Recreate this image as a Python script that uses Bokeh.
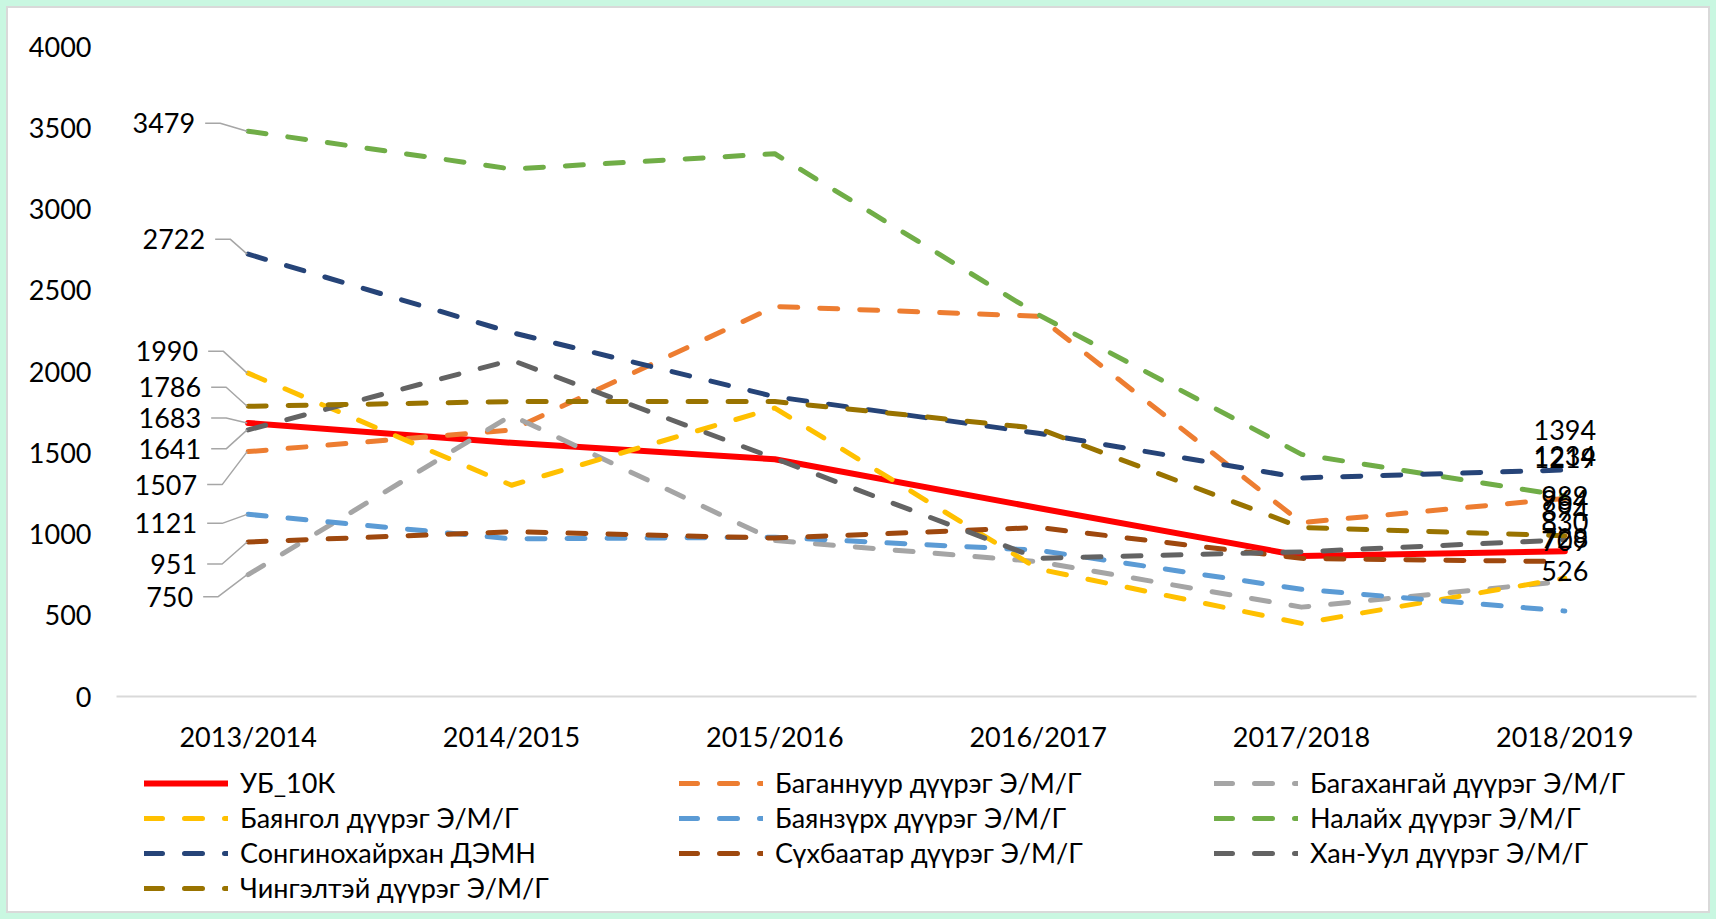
from bokeh.plotting import figure
from bokeh.layouts import column
from bokeh.models import Range1d, FixedTicker, Legend, LegendItem
from bokeh.core.properties import value
from bokeh.embed import file_html
from bokeh.resources import INLINE

# ---------------- data ----------------
categories = ["2013/2014", "2014/2015", "2015/2016", "2016/2017", "2017/2018", "2018/2019"]

ub_10k = [1683, 1561, 1460, 1160, 865, 894]
baganuur = [1507, 1640, 2400, 2340, 1070, 1219]
bagakhangai = [750, 1730, 960, 830, 550, 709]
bayangol = [1990, 1300, 1775, 785, 450, 728]
bayanzurkh = [1121, 970, 980, 900, 660, 526]
nalaikh = [3479, 3246, 3340, 2350, 1490, 1234]
songinokhairkhan = [2722, 2240, 1845, 1620, 1345, 1394]
sukhbaatar = [951, 1014, 975, 1040, 850, 830]
khan_uul = [1641, 2070, 1465, 850, 890, 964]
chingeltei = [1786, 1815, 1815, 1650, 1040, 989]

series_names = ["УБ_10К", "Баганнуур дүүрэг Э/М/Г", "Багахангай дүүрэг Э/М/Г",
                "Баянгол дүүрэг Э/М/Г", "Баянзүрх дүүрэг Э/М/Г", "Налайх дүүрэг Э/М/Г",
                "Сонгинохайрхан ДЭМН", "Сүхбаатар дүүрэг Э/М/Г", "Хан-Уул дүүрэг Э/М/Г",
                "Чингэлтэй дүүрэг Э/М/Г"]
series_values = [ub_10k, baganuur, bagakhangai, bayangol, bayanzurkh, nalaikh,
                 songinokhairkhan, sukhbaatar, khan_uul, chingeltei]
series_colors = ["#FF0000", "#ED7D31", "#A5A5A5", "#FFC000", "#5B9BD5", "#70AD47",
                 "#264478", "#9E480E", "#636363", "#997300"]

y_ticks = [0, 500, 1000, 1500, 2000, 2500, 3000, 3500, 4000]

# left data-label layout (screen px): leader start x offset, label y offset
left_leader_dx = [-37, -41, -45, -40, -41, -43, -33, -41, -37, -37]
left_label_dy = [-5, 33, 22, -22, 9, -8, -15, 22, 19, -19]

FONT = "Lato"
FS = "27px"

W = 1700
H_CHART, H_LEG = 754, 149
ML, MR, MT, MB = 108, 12, 38, 66
frame_w = W - ML - MR
frame_h = H_CHART - MT - MB
x_per_px = 6.0 / frame_w
y_per_px = (y_ticks[-1] - y_ticks[0]) / frame_h

p = figure(width=W, height=H_CHART, output_backend="svg", toolbar_location=None,
           x_range=Range1d(-0.5, 5.5), y_range=Range1d(y_ticks[0], y_ticks[-1]),
           min_border_left=ML, min_border_right=MR, min_border_top=MT, min_border_bottom=MB,
           title=None)
p.grid.visible = False
p.outline_line_color = None
p.background_fill_color = "white"
p.border_fill_color = "white"

xs = list(range(len(categories)))

# axes
p.xaxis.ticker = FixedTicker(ticks=xs)
p.xaxis.major_label_overrides = {i: c for i, c in enumerate(categories)}
p.xaxis.axis_line_color = "#D9D9D9"
p.xaxis.axis_line_width = 2
p.xaxis.major_tick_line_color = None
p.xaxis.minor_tick_line_color = None
p.xaxis.major_label_standoff = 17
p.yaxis.ticker = FixedTicker(ticks=y_ticks)
p.yaxis.axis_line_color = None
p.yaxis.major_tick_line_color = None
p.yaxis.minor_tick_line_color = None
p.yaxis.major_label_standoff = 19
for ax in (p.xaxis, p.yaxis):
    ax.major_label_text_font = FONT
    ax.major_label_text_font_size = FS
    ax.major_label_text_color = "#000000"


def line_style(i, col):
    if i == 0:
        return dict(line_color=col, line_width=6, line_cap="round", line_join="round")
    return dict(line_color=col, line_width=5, line_dash="18 22",
                line_cap="round", line_join="round")


# lines
for i, (vals, col) in enumerate(zip(series_values, series_colors)):
    p.line(xs, vals, **line_style(i, col))

# left data labels with leader lines
lead_xs, lead_ys = [], []
lab_x, lab_y, lab_t, lab_dx, lab_dy = [], [], [], [], []
for i, vals in enumerate(series_values):
    v0 = vals[0]
    dx = left_leader_dx[i]
    dy = left_label_dy[i]
    ly = v0 - dy * y_per_px
    lead_xs.append([dx * x_per_px, (dx + 15) * x_per_px, -1 * x_per_px])
    lead_ys.append([ly, ly, v0])
    lab_x.append(0)
    lab_y.append(v0)
    lab_t.append(str(v0))
    lab_dx.append(dx - 10)
    lab_dy.append(dy)
p.multi_line(lead_xs, lead_ys, line_color="#A6A6A6", line_width=1.5)
p.text(lab_x, lab_y, text=lab_t, x_offset=lab_dx, y_offset=lab_dy,
       text_align="right", text_baseline="middle", text_font=value(FONT),
       text_font_size=FS, text_color="#000000")

# right data labels
rx = [xs[-1]] * len(series_values)
ry = [vals[-1] for vals in series_values]
rt = [str(v) for v in ry]
p.text(rx, ry, text=rt, y_offset=-40, text_align="center", text_baseline="middle",
       text_font=value(FONT), text_font_size=FS, text_color="#000000")

# legend (separate strip below the chart; its renderers hold one NaN point so only
# the legend swatches are drawn)
lf = figure(width=W, height=H_LEG, output_backend="svg", toolbar_location=None,
            x_range=Range1d(0, 1), y_range=Range1d(0, 1), title=None,
            x_axis_type=None, y_axis_type=None,
            min_border_left=0, min_border_right=0, min_border_top=0, min_border_bottom=0)
lf.grid.visible = False
lf.outline_line_color = None
lf.border_fill_color = "white"
nan = float("nan")
leg_renderers = [lf.line([0.5], [nan], **line_style(i, col))
                 for i, col in enumerate(series_colors)]
items = [LegendItem(label=n, renderers=[r]) for n, r in zip(series_names, leg_renderers)]
legend = Legend(items=items, location=(28, 7), orientation="horizontal", ncols=3,
                glyph_width=84, glyph_height=30, label_height=30, label_width=437,
                label_standoff=12, spacing=2, padding=0, margin=0,
                border_line_color=None, background_fill_alpha=0,
                label_text_font=FONT, label_text_font_size=FS, label_text_color="#000000")
lf.add_layout(legend, "center")

layout = column(p, lf, spacing=0,
                styles={"margin": "8px", "outline": "2px solid #D9D9D9",
                        "box-shadow": "0 0 0 8px #C9F7E1", "background": "white"})

open("out.html", "w").write(file_html(layout, INLINE))
